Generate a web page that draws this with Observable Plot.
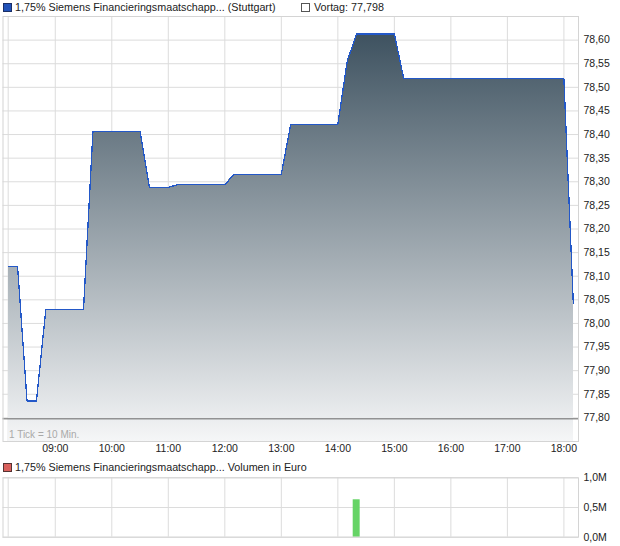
<!DOCTYPE html>
<html>
<head>
<meta charset="utf-8">
<script src="https://cdn.jsdelivr.net/npm/d3@7"></script>
<script src="https://cdn.jsdelivr.net/npm/@observablehq/plot@0.6"></script>
<style>
  body { margin: 0; background: #fff; font-family: "Liberation Sans", Arial, sans-serif; }
  #wrap { position: relative; width: 620px; height: 546px; overflow: hidden; }
  .legend { position: absolute; font-size: 10.75px; color: #222; white-space: nowrap; line-height: 14px; }
  .sw { position: absolute; width: 7px; height: 7px; border: 1px solid #333; }
  .chart { position: absolute; left: 0; }
</style>
</head>
<body>
<div id="wrap">
  <div class="sw" style="left:3px;top:3px;background:#2152b8;border-color:#1b2f66"></div>
  <div class="legend" id="title1" style="left:15px;top:0px"></div>
  <div class="sw" style="left:301px;top:3px;background:#fff;border-color:#555"></div>
  <div class="legend" id="prev" style="left:314px;top:0px"></div>
  <div class="chart" id="main" style="top:14px"></div>
  <div class="sw" style="left:3px;top:463px;background:#d9605c;border-color:#553333"></div>
  <div class="legend" id="title2" style="left:15px;top:460px"></div>
  <div class="chart" id="vol" style="top:474px"></div>
</div>
<script>
// Intraday quotes (minutes since midnight, price in %)
const priceTimes = [490, 500, 510, 520, 530, 570, 580, 630, 640, 660, 670, 720, 730, 780, 790, 840, 850, 860, 900, 910, 1080, 1090];
const priceValues = [78.12, 78.12, 77.836, 77.836, 78.03, 78.03, 78.407, 78.407, 78.288, 78.288, 78.294, 78.294, 78.316, 78.316, 78.422, 78.422, 78.556, 78.613, 78.613, 78.518, 78.518, 78.042];

// Turnover in million euro
const volumeTimes = [860];
const volumeValues = [0.63];

const prevClose = 77.798;
const hourTicks = [540, 600, 660, 720, 780, 840, 900, 960, 1020, 1080];
const sessionStart = 490;
const priceTicks = [77.80, 77.85, 77.90, 77.95, 78.00, 78.05, 78.10, 78.15, 78.20, 78.25, 78.30, 78.35, 78.40, 78.45, 78.50, 78.55, 78.60];
const volumeTicks = [0, 0.5, 1.0];

const seriesName = "1,75% Siemens Financieringsmaatschapp...";
const exchange = "(Stuttgart)";
const volumeLabel = "Volumen in Euro";
const tickNote = "1 Tick = 10 Min.";

const price = priceTimes.map((t, i) => ({t, v: priceValues[i]}));
const volume = volumeTimes.map((t, i) => ({t, v: volumeValues[i]}));

const deNum = (d, n) => d.toFixed(n).replace(".", ",");
const hhmm = m => String(Math.floor(m / 60)).padStart(2, "0") + ":" + String(m % 60).padStart(2, "0");

document.getElementById("title1").textContent = seriesName + " " + exchange;
document.getElementById("prev").textContent = "Vortag: " + deNum(prevClose, 3);
document.getElementById("title2").textContent = seriesName + " " + volumeLabel;

const xDomain = [484.5, 1095.5];
const yMin = 77.75;
const gridColor = "#dcdcdc";
const font = {fontFamily: "'Liberation Sans', Arial, sans-serif", fontSize: "10.5px", color: "#222", background: "transparent", overflow: "visible"};

const main = Plot.plot({
  width: 620, height: 444,
  marginTop: 2, marginBottom: 17, marginLeft: 2.5, marginRight: 42,
  style: font,
  x: {domain: xDomain, label: null},
  y: {domain: [yMin, 78.65], label: null},
  marks: [
    Plot.gridX([sessionStart, ...hourTicks], {stroke: gridColor, strokeOpacity: 1}),
    Plot.gridY(priceTicks, {stroke: gridColor, strokeOpacity: 1}),
    Plot.areaY(price, {x: "t", y1: yMin, y2: "v", fill: "url(#priceFill)", shapeRendering: "crispEdges"}),
    Plot.ruleY([prevClose], {stroke: "#666", strokeWidth: 1}),
    Plot.lineY(price, {x: "t", y: "v", stroke: "#2358c8", strokeWidth: 1.3, shapeRendering: "crispEdges"}),
    Plot.frame({stroke: "#d4d4d4"}),
    Plot.text([tickNote], {frameAnchor: "bottom-left", dx: 6, dy: -4, fill: "#a9a9a9", fontSize: 10}),
    Plot.axisY(priceTicks, {anchor: "right", label: null, tickSize: 0, tickPadding: 5, tickFormat: d => deNum(d, 2), fill: "#222"}),
    Plot.axisX(hourTicks, {label: null, tickSize: 0, tickPadding: 3, tickFormat: hhmm, fill: "#222"})
  ]
});

// vertical fill gradient for the price area
const svg = d3.select(main);
const grad = svg.insert("defs", ":first-child").append("linearGradient")
  .attr("id", "priceFill").attr("x1", 0).attr("y1", 0).attr("x2", 0).attr("y2", 1);
grad.append("stop").attr("offset", "0%").attr("stop-color", "#3e5260");
grad.append("stop").attr("offset", "100%").attr("stop-color", "#f5f6f7");
document.getElementById("main").appendChild(main);

const barHalf = 3.7;
const vol = Plot.plot({
  width: 620, height: 72,
  marginTop: 3.3, marginBottom: 9.3, marginLeft: 2.5, marginRight: 42,
  style: font,
  x: {domain: xDomain, axis: null},
  y: {domain: [0, 1.0], label: null},
  marks: [
    Plot.gridX([sessionStart, ...hourTicks], {stroke: gridColor, strokeOpacity: 1}),
    Plot.gridY(volumeTicks, {stroke: gridColor, strokeOpacity: 1}),
    Plot.rectY(volume, {x1: d => d.t - barHalf, x2: d => d.t + barHalf, y: "v", fill: "#66d466"}),
    Plot.frame({stroke: "#d4d4d4"}),
    Plot.axisY(volumeTicks, {anchor: "right", label: null, tickSize: 0, tickPadding: 5, tickFormat: d => deNum(d, 1) + "M", fill: "#222"})
  ]
});
document.getElementById("vol").appendChild(vol);
</script>
</body>
</html>
